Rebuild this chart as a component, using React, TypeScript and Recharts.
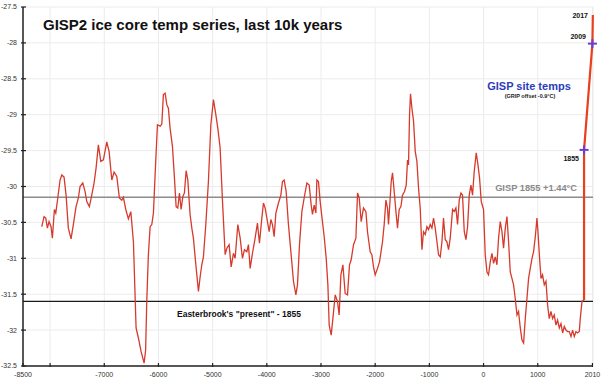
import React from "react";
import {
  ComposedChart,
  Line,
  Scatter,
  XAxis,
  YAxis,
  CartesianGrid,
  ReferenceLine,
} from "recharts";

// GISP2 series (year AD, temperature °C)
const gispYears = [
  -8154, -8111, -8080, -8050, -8019, -7982, -7958, -7921, -7895, -7858,
  -7816, -7784, -7742, -7705, -7663, -7613, -7571, -7521, -7478, -7447,
  -7397, -7354, -7323, -7275, -7231, -7188, -7151, -7109, -7064, -7016,
  -6954, -6911, -6861, -6819, -6769, -6721, -6677, -6647, -6603, -6555,
  -6510, -6462, -6413, -6370, -6320, -6265, -6237, -6215, -6186, -6154,
  -6123, -6093, -6062, -6019, -5969, -5938, -5909, -5877, -5846, -5817,
  -5785, -5742, -5705, -5674, -5643, -5613, -5582, -5550, -5521, -5489,
  -5458, -5416, -5384, -5355, -5310, -5262, -5231, -5200, -5170, -5126,
  -5078, -5033, -4985, -4941, -4904, -4862, -4819, -4769, -4738, -4696,
  -4658, -4616, -4585, -4535, -4492, -4450, -4413, -4369, -4339, -4308,
  -4265, -4216, -4173, -4136, -4092, -4062, -4031, -3999, -3957, -3925,
  -3896, -3865, -3833, -3785, -3741, -3711, -3680, -3643, -3601, -3556,
  -3508, -3464, -3434, -3397, -3353, -3311, -3261, -3218, -3181, -3157,
  -3126, -3095, -3076, -3047, -3015, -2984, -2941, -2904, -2873, -2849,
  -2812, -2781, -2738, -2696, -2665, -2633, -2596, -2554, -2511, -2474,
  -2443, -2400, -2356, -2326, -2295, -2258, -2216, -2171, -2142, -2092,
  -2061, -2031, -2000, -1957, -1920, -1865, -1834, -1802, -1773, -1754,
  -1723, -1704, -1680, -1649, -1617, -1588, -1557, -1525, -1496, -1459,
  -1427, -1403, -1385, -1366, -1348, -1322, -1292, -1261, -1230, -1200,
  -1169, -1137, -1108, -1076, -1045, -1016, -984, -953, -923, -892,
  -860, -831, -799, -768, -739, -707, -676, -646, -615, -572,
  -541, -510, -480, -449, -417, -388, -356, -325, -295, -264,
  -233, -203, -172, -135, -103, -74, -42, 0, 31, 63,
  92, 124, 155, 185, 216, 247, 277, 308, 340, 369,
  401, 432, 462, 493, 524, 554, 585, 617, 646, 678,
  709, 739, 770, 801, 831, 862, 894, 923, 955, 986,
  1004, 1034, 1060, 1089, 1121, 1152, 1182, 1213, 1244, 1274,
  1305, 1337, 1366, 1398, 1429, 1459, 1490, 1521, 1551, 1582,
  1614, 1643, 1675, 1706, 1736, 1767, 1785, 1817, 1855,
];

const gispTemps = [
  -30.56, -30.42, -30.44, -30.58, -30.49, -30.56, -30.72, -30.32, -30.37, -30.16,
  -29.91, -29.84, -29.87, -30.12, -30.58, -30.73, -30.53, -30.28, -30.16, -30.0,
  -29.95, -30.07, -30.21, -30.28, -30.12, -29.95, -29.74, -29.42, -29.65, -29.63,
  -29.38, -29.51, -29.91, -29.8, -29.86, -30.16, -30.19, -30.15, -30.32, -30.45,
  -30.35, -30.77, -31.97, -32.11, -32.3, -32.46, -32.28, -31.58, -30.95, -30.56,
  -30.53, -30.37, -29.84, -29.14, -29.16, -29.13, -28.72, -28.7, -28.86, -28.91,
  -29.19, -29.44, -29.88, -30.28, -30.3, -30.09, -30.32, -30.14, -30.09, -29.78,
  -29.91, -30.39, -30.58, -30.72, -31.09, -31.46, -31.26, -31.09, -30.98, -30.53,
  -29.93, -29.14, -28.79, -29.0, -29.19, -29.46, -30.19, -30.95, -30.86, -30.81,
  -31.12, -30.93, -31.0, -30.53, -30.72, -31.0, -30.88, -30.91, -30.81, -31.14,
  -30.93, -30.72, -30.51, -30.79, -30.44, -30.23, -30.3, -30.44, -30.63, -30.46,
  -30.53, -30.7, -30.37, -30.23, -30.12, -29.93, -29.91, -30.07, -30.53, -30.91,
  -31.32, -31.51, -31.37, -30.81, -30.35, -30.16, -29.95, -29.98, -30.26, -30.39,
  -30.26, -30.37, -29.91, -29.93, -30.21, -30.42, -30.7, -31.0, -31.37, -31.93,
  -32.07, -31.84, -31.51, -31.6, -31.79, -31.23, -31.09, -31.49, -31.51, -31.09,
  -31.02, -30.81, -30.72, -30.09, -30.16, -30.49, -30.3, -30.35, -30.63, -30.91,
  -30.95, -31.12, -31.23, -31.14, -31.05, -30.77, -30.53, -30.19, -30.3, -30.53,
  -30.16, -29.93, -29.81, -30.07, -30.35, -30.58, -30.32, -30.28, -30.12, -30.07,
  -29.98, -29.63, -29.7, -29.0, -28.71, -28.91, -29.09, -29.51, -29.65, -30.02,
  -30.3, -30.88, -30.63, -30.67, -30.56, -30.6, -30.53, -30.58, -30.44, -30.58,
  -30.77, -30.95, -30.98, -30.77, -30.44, -30.74, -30.77, -30.88, -30.72, -30.32,
  -30.35, -30.3, -30.53, -30.19, -30.09, -30.12, -30.63, -30.74, -30.56, -30.12,
  -29.98, -30.12, -29.79, -29.53, -29.7, -29.88, -30.21, -30.32, -30.95, -31.19,
  -31.23, -31.05, -30.93, -31.07, -30.98, -31.09, -30.72, -30.49, -30.63, -30.86,
  -30.58, -30.42, -30.77, -31.19, -31.28, -31.37, -31.56, -31.79, -31.74, -31.97,
  -32.14, -32.18, -31.84, -31.56, -31.28, -31.14, -31.0, -30.91, -30.7, -30.44,
  -30.63, -31.0, -31.28, -31.23, -31.37, -31.32, -31.65, -31.84, -31.74, -31.84,
  -31.79, -31.93, -31.86, -31.97, -31.91, -32.04, -31.95, -32.0, -32.02, -32.02,
  -32.09, -32.0, -32.09, -32.02, -32.04, -32.02, -31.84, -31.6, -31.58,
];

// GISP site temps (modern)
const siteYears = [1855, 1855, 2009, 2017];
const siteTemps = [-31.58, -29.49, -28.01, -27.61];

// Marked site-temperature points
const markYears = [1855, 2009];
const markTemps = [-29.49, -28.01];

// Reference levels
const present1855 = -31.6;
const gisp1855Plus = -30.15;

const xTicks = [-8500, -8000, -7000, -6000, -5000, -4000, -3000, -2000, -1000, 0, 1000, 2010];
const xTickLabelsHidden = [-8000];
const yTicks = [-32.5, -32, -31.5, -31, -30.5, -30, -29.5, -29, -28.5, -28, -27.5];

const gispData = gispYears.map((y, i) => ({ year: y, temp: gispTemps[i] }));
const siteData = siteYears.map((y, i) => ({ year: y, temp: siteTemps[i] }));
const markData = markYears.map((y, i) => ({ year: y, temp: markTemps[i] }));

const FONT = "'Liberation Sans', Arial, Helvetica, sans-serif";

const XTick = (props: any) => {
  const { x, y, payload } = props;
  const show = !xTickLabelsHidden.includes(payload.value);
  return (
    <g>
      <line x1={x} x2={x} y1={y - 3} y2={y + 1} stroke="#222" strokeWidth={1.2} />
      {show && (
        <text x={x} y={y + 11} textAnchor="middle" fontSize={7} fill="#333" fontFamily={FONT}>
          {payload.value}
        </text>
      )}
    </g>
  );
};

const YTick = (props: any) => {
  const { x, y, payload } = props;
  return (
    <g>
      <line x1={x - 2} x2={x + 3} y1={y} y2={y} stroke="#222" strokeWidth={1.2} />
      <text x={x - 6} y={y} dy="0.35em" textAnchor="end" fontSize={7} fill="#333" fontFamily={FONT}>
        {payload.value}
      </text>
    </g>
  );
};

const PlusShape = (props: any) => {
  const { cx, cy } = props;
  return (
    <g>
      <line x1={cx - 4.5} x2={cx + 4.5} y1={cy} y2={cy} stroke="#6a3fd0" strokeWidth={2} />
      <line x1={cx} x2={cx} y1={cy - 4.5} y2={cy + 4.5} stroke="#6a3fd0" strokeWidth={2} />
    </g>
  );
};

export default function App() {
  return (
    <div style={{ position: "fixed", left: 0, top: 0, width: 602, height: 380, background: "#fff" }}>
      <ComposedChart width={602} height={380} margin={{ top: 7, right: 9, bottom: 0, left: 0 }}>
        <CartesianGrid stroke="#ececec" strokeWidth={1} />
        <XAxis
          type="number"
          dataKey="year"
          domain={[-8500, 2020]}
          ticks={xTicks}
          height={14}
          tickSize={0}
          tickMargin={0}
          tick={<XTick />}
          axisLine={{ stroke: "#222", strokeWidth: 1.5 }}
          interval={0}
        />
        <YAxis
          type="number"
          domain={[-32.5, -27.5]}
          ticks={yTicks}
          width={23}
          tickSize={0}
          tickMargin={0}
          tick={<YTick />}
          axisLine={{ stroke: "#222", strokeWidth: 1.5 }}
          interval={0}
        />
        <ReferenceLine y={gisp1855Plus} stroke="#8c8c8c" strokeWidth={1.3} />
        <ReferenceLine y={present1855} stroke="#1a1a1a" strokeWidth={1.3} />
        <Line
          data={gispData}
          dataKey="temp"
          type="linear"
          stroke="#d63a2c"
          strokeWidth={1.3}
          dot={false}
          isAnimationActive={false}
        />
        <Line
          data={siteData}
          dataKey="temp"
          type="linear"
          stroke="#e8401c"
          strokeWidth={2.2}
          dot={false}
          isAnimationActive={false}
        />
        <Scatter data={markData} dataKey="temp" shape={<PlusShape />} isAnimationActive={false} />
      </ComposedChart>
      <svg
        width={602}
        height={380}
        style={{ position: "absolute", left: 0, top: 0, pointerEvents: "none" }}
        fontFamily={FONT}
        fontWeight="bold"
      >
        <text x={43} y={30} fontSize={15} fill="#111">GISP2 ice core temp series, last 10k years</text>
        <text x={529} y={90} fontSize={11} fill="#2b3cbb" textAnchor="middle">GISP site temps</text>
        <text x={530} y={98} fontSize={5.5} fill="#222" textAnchor="middle">(GRIP offset -0.9°C)</text>
        <text x={577} y={191.3} fontSize={9.3} fill="#8a8a8a" textAnchor="end">GISP 1855 +1.44°C</text>
        <text x={177} y={317} fontSize={8.5} fill="#111">Easterbrook's "present" - 1855</text>
        <text x={588} y={17.5} fontSize={7} fill="#111" textAnchor="end">2017</text>
        <text x={586} y={39.2} fontSize={7} fill="#111" textAnchor="end">2009</text>
        <text x={579} y={160.5} fontSize={7} fill="#111" textAnchor="end">1855</text>
      </svg>
    </div>
  );
}
